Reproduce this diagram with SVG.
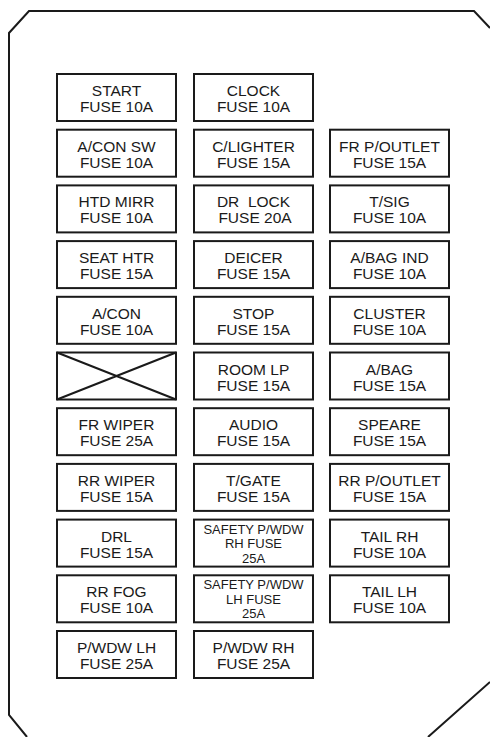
<svg xmlns="http://www.w3.org/2000/svg" width="490" height="737" viewBox="0 0 490 737">
<style>
.b{fill:#fff;stroke:#1a1a1a;stroke-width:2}
.t{font-family:"Liberation Sans",Arial,sans-serif;font-size:15.5px;fill:#1a1a1a;text-anchor:middle;white-space:pre}
.s{font-family:"Liberation Sans",Arial,sans-serif;font-size:13px;fill:#1a1a1a;text-anchor:middle}
.o{fill:none;stroke:#1a1a1a;stroke-width:2}
</style>
<rect width="490" height="737" fill="#fff"/>
<path class="o" d="M490,28 L474,11 L29,11 L9,33 L9,715 L27,737 M428,737 L490,682"/>
<g id="start"><rect class="b" x="57" y="74" width="119" height="47"/><text class="t" x="116.5" y="96">START</text><text class="t" x="116.5" y="112">FUSE 10A</text></g>
<g id="clock"><rect class="b" x="194" y="74" width="119" height="47"/><text class="t" x="253.5" y="96">CLOCK</text><text class="t" x="253.5" y="112">FUSE 10A</text></g>
<g id="acon-sw"><rect class="b" x="57" y="129.7" width="119" height="47"/><text class="t" x="116.5" y="151.7">A/CON SW</text><text class="t" x="116.5" y="167.7">FUSE 10A</text></g>
<g id="clighter"><rect class="b" x="194" y="129.7" width="119" height="47"/><text class="t" x="253.5" y="151.7">C/LIGHTER</text><text class="t" x="253.5" y="167.7">FUSE 15A</text></g>
<g id="fr-poutlet"><rect class="b" x="330" y="129.7" width="119" height="47"/><text class="t" x="389.5" y="151.7">FR P/OUTLET</text><text class="t" x="389.5" y="167.7">FUSE 15A</text></g>
<g id="htd-mirr"><rect class="b" x="57" y="185.4" width="119" height="47"/><text class="t" x="116.5" y="207.4">HTD MIRR</text><text class="t" x="116.5" y="223.4">FUSE 10A</text></g>
<g id="dr-lock"><rect class="b" x="194" y="185.4" width="119" height="47"/><text class="t" x="253.5" y="207.4">DR  LOCK</text><text class="t" x="255" y="223.4">FUSE 20A</text></g>
<g id="tsig"><rect class="b" x="330" y="185.4" width="119" height="47"/><text class="t" x="389.5" y="207.4">T/SIG</text><text class="t" x="389.5" y="223.4">FUSE 10A</text></g>
<g id="seat-htr"><rect class="b" x="57" y="241.1" width="119" height="47"/><text class="t" x="116.5" y="263.1">SEAT HTR</text><text class="t" x="116.5" y="279.1">FUSE 15A</text></g>
<g id="deicer"><rect class="b" x="194" y="241.1" width="119" height="47"/><text class="t" x="253.5" y="263.1">DEICER</text><text class="t" x="253.5" y="279.1">FUSE 15A</text></g>
<g id="abag-ind"><rect class="b" x="330" y="241.1" width="119" height="47"/><text class="t" x="389.5" y="263.1">A/BAG IND</text><text class="t" x="389.5" y="279.1">FUSE 10A</text></g>
<g id="acon"><rect class="b" x="57" y="296.8" width="119" height="47"/><text class="t" x="116.5" y="318.8">A/CON</text><text class="t" x="116.5" y="334.8">FUSE 10A</text></g>
<g id="stop"><rect class="b" x="194" y="296.8" width="119" height="47"/><text class="t" x="253.5" y="318.8">STOP</text><text class="t" x="253.5" y="334.8">FUSE 15A</text></g>
<g id="cluster"><rect class="b" x="330" y="296.8" width="119" height="47"/><text class="t" x="389.5" y="318.8">CLUSTER</text><text class="t" x="389.5" y="334.8">FUSE 10A</text></g>
<g id="empty"><rect class="b" x="57" y="352.5" width="119" height="47"/><path class="o" d="M57,352.5 L176,399.5 M176,352.5 L57,399.5"/></g>
<g id="room-lp"><rect class="b" x="194" y="352.5" width="119" height="47"/><text class="t" x="253.5" y="374.5">ROOM LP</text><text class="t" x="253.5" y="390.5">FUSE 15A</text></g>
<g id="abag"><rect class="b" x="330" y="352.5" width="119" height="47"/><text class="t" x="389.5" y="374.5">A/BAG</text><text class="t" x="389.5" y="390.5">FUSE 15A</text></g>
<g id="fr-wiper"><rect class="b" x="57" y="408.2" width="119" height="47"/><text class="t" x="116.5" y="430.2">FR WIPER</text><text class="t" x="116.5" y="446.2">FUSE 25A</text></g>
<g id="audio"><rect class="b" x="194" y="408.2" width="119" height="47"/><text class="t" x="253.5" y="430.2">AUDIO</text><text class="t" x="253.5" y="446.2">FUSE 15A</text></g>
<g id="speare"><rect class="b" x="330" y="408.2" width="119" height="47"/><text class="t" x="389.5" y="430.2">SPEARE</text><text class="t" x="389.5" y="446.2">FUSE 15A</text></g>
<g id="rr-wiper"><rect class="b" x="57" y="463.9" width="119" height="47"/><text class="t" x="116.5" y="485.9">RR WIPER</text><text class="t" x="116.5" y="501.9">FUSE 15A</text></g>
<g id="tgate"><rect class="b" x="194" y="463.9" width="119" height="47"/><text class="t" x="253.5" y="485.9">T/GATE</text><text class="t" x="253.5" y="501.9">FUSE 15A</text></g>
<g id="rr-poutlet"><rect class="b" x="330" y="463.9" width="119" height="47"/><text class="t" x="389.5" y="485.9">RR P/OUTLET</text><text class="t" x="389.5" y="501.9">FUSE 15A</text></g>
<g id="drl"><rect class="b" x="57" y="519.6" width="119" height="47"/><text class="t" x="116.5" y="541.6">DRL</text><text class="t" x="116.5" y="557.6">FUSE 15A</text></g>
<g id="safety-rh"><rect class="b" x="194" y="519.6" width="119" height="47"/><text class="s" x="253.5" y="533.5">SAFETY P/WDW</text><text class="s" x="253.5" y="548">RH FUSE</text><text class="s" x="253.5" y="562.5">25A</text></g>
<g id="tail-rh"><rect class="b" x="330" y="519.6" width="119" height="47"/><text class="t" x="389.5" y="541.6">TAIL RH</text><text class="t" x="389.5" y="557.6">FUSE 10A</text></g>
<g id="rr-fog"><rect class="b" x="57" y="575.3" width="119" height="47"/><text class="t" x="116.5" y="597.3">RR FOG</text><text class="t" x="116.5" y="613.3">FUSE 10A</text></g>
<g id="safety-lh"><rect class="b" x="194" y="575.3" width="119" height="47"/><text class="s" x="253.5" y="589.2">SAFETY P/WDW</text><text class="s" x="253.5" y="603.7">LH FUSE</text><text class="s" x="253.5" y="618.2">25A</text></g>
<g id="tail-lh"><rect class="b" x="330" y="575.3" width="119" height="47"/><text class="t" x="389.5" y="597.3">TAIL LH</text><text class="t" x="389.5" y="613.3">FUSE 10A</text></g>
<g id="pwdw-lh"><rect class="b" x="57" y="631" width="119" height="47"/><text class="t" x="116.5" y="653">P/WDW LH</text><text class="t" x="116.5" y="669">FUSE 25A</text></g>
<g id="pwdw-rh"><rect class="b" x="194" y="631" width="119" height="47"/><text class="t" x="253.5" y="653">P/WDW RH</text><text class="t" x="253.5" y="669">FUSE 25A</text></g>
<g id="connectors"></g>
</svg>
